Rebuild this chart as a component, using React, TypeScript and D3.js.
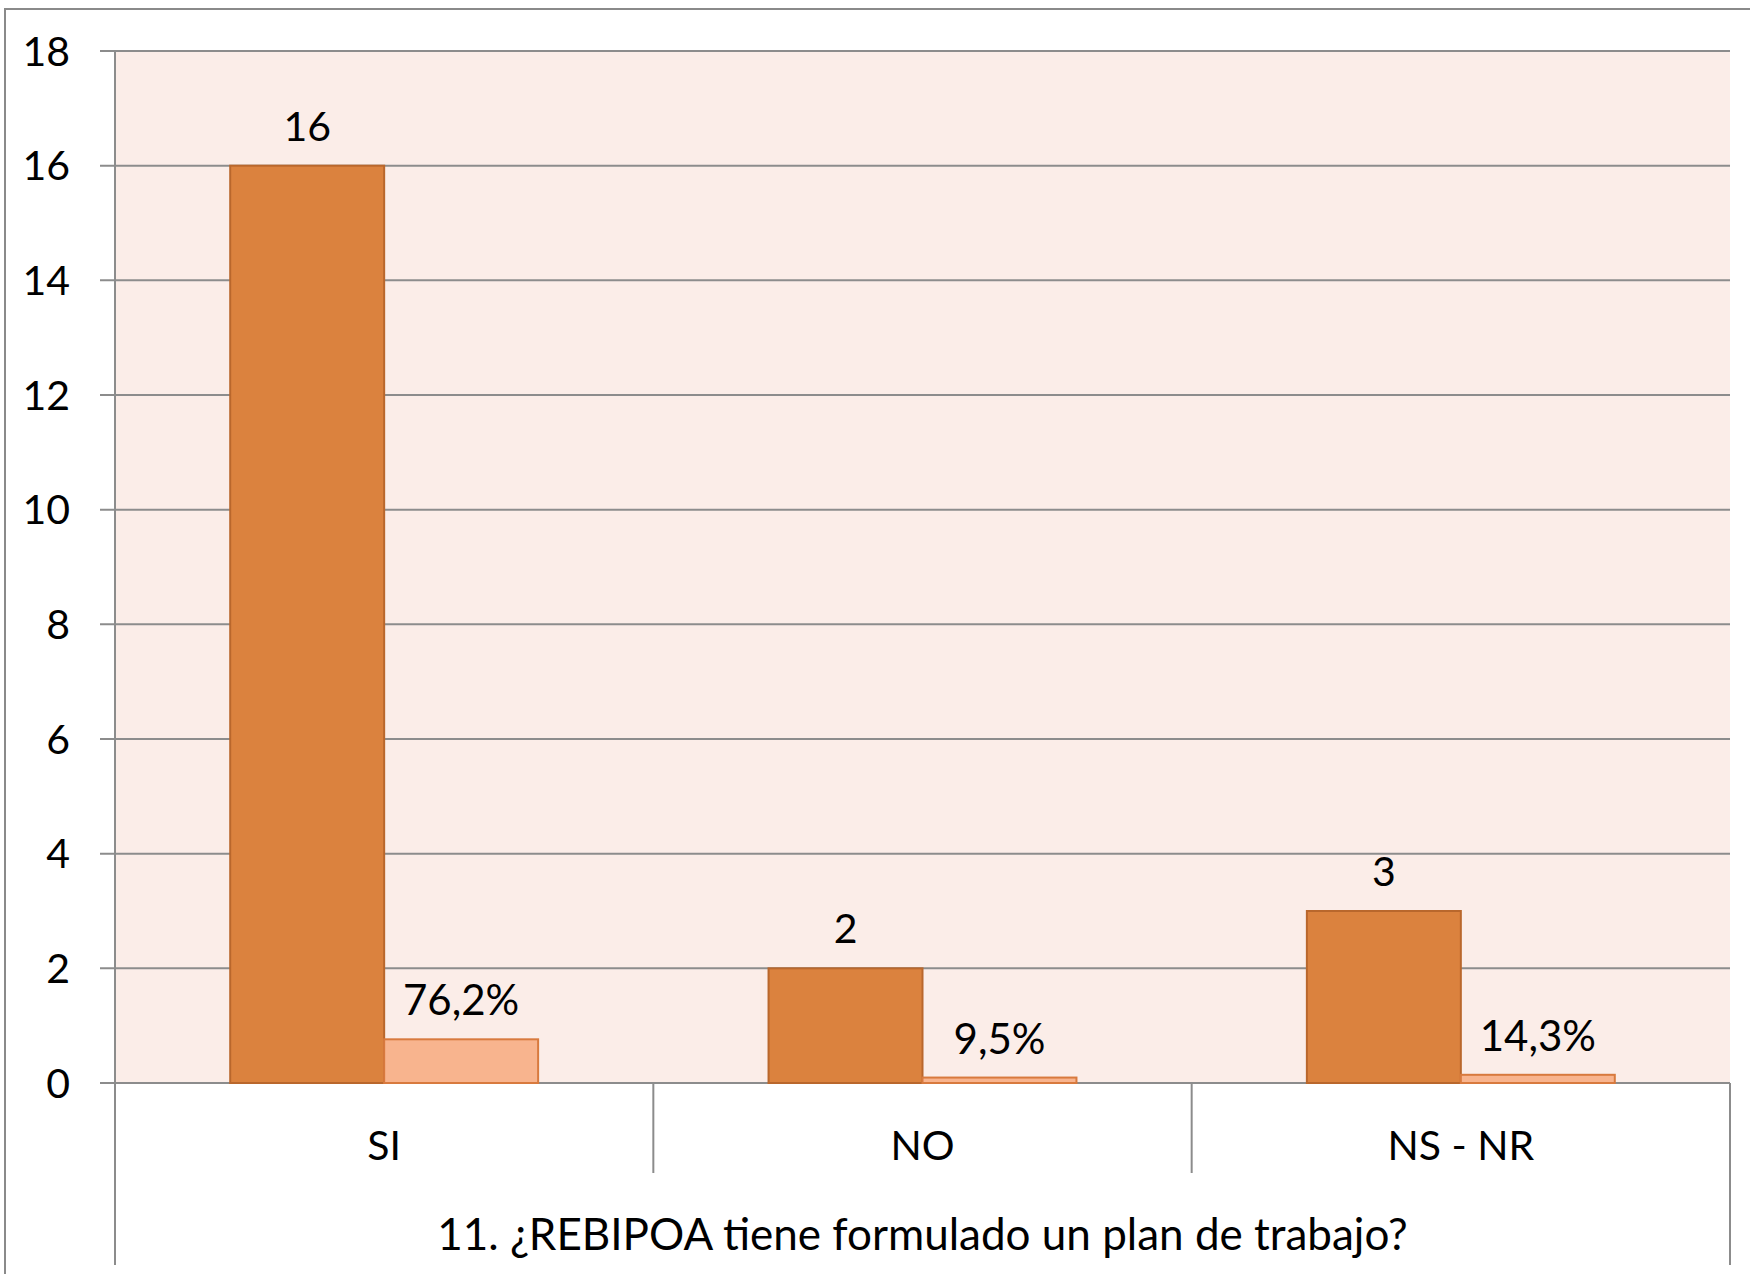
import React from "react";
import * as d3 from "d3";

const categories = ["SI", "NO", "NS - NR"];
const counts = [16, 2, 3];
const shares = [0.762, 0.095, 0.143];
const shareLabels = ["76,2%", "9,5%", "14,3%"];
const yTicks = [0, 2, 4, 6, 8, 10, 12, 14, 16, 18];
const axisTitle = "11. ¿REBIPOA tiene formulado un plan de trabajo?";

const W = 1750;
const H = 1274;
const left = 115;
const right = 1730;
const top = 51;
const bottom = 1083;
const FONT = "Lato, 'Open Sans', sans-serif";

export default function App() {
  const x = d3.scaleBand<string>().domain(categories).range([left, right]).padding(0);
  const y = d3.scaleLinear().domain([0, 18]).range([bottom, top]);
  const bw = x.bandwidth();
  const barW = bw * 0.286;

  return (
    <svg
      width={W}
      height={H}
      style={{ position: "absolute", left: 0, top: 0, background: "#fff" }}
      fontFamily={FONT}
    >
      <rect x={5} y={9} width={W} height={H} fill="#fff" stroke="#8a8a8a" strokeWidth={2} />
      <rect x={left} y={top} width={right - left} height={bottom - top} fill="#FBEDE8" />
      {yTicks.map((t) => (
        <g key={t}>
          <line x1={left - 15} x2={right} y1={y(t)} y2={y(t)} stroke="#8c8c8c" strokeWidth={2} />
          <text x={70} y={y(t)} dy="0.36em" textAnchor="end" fontSize={41} fill="#000">
            {t}
          </text>
        </g>
      ))}
      <line x1={left} x2={left} y1={top} y2={1265} stroke="#8c8c8c" strokeWidth={2} />
      <line x1={right} x2={right} y1={bottom} y2={1265} stroke="#8c8c8c" strokeWidth={2} />
      {categories.slice(1).map((c) => (
        <line key={c} x1={x(c)!} x2={x(c)!} y1={bottom} y2={1173} stroke="#8c8c8c" strokeWidth={2} />
      ))}
      {categories.map((c, i) => {
        const cx = x(c)! + bw / 2;
        return (
          <g key={c}>
            <rect
              x={cx - barW}
              y={y(counts[i])}
              width={barW}
              height={y(0) - y(counts[i])}
              fill="#DB823E"
              stroke="#B9672C"
              strokeWidth={2}
            />
            <rect
              x={cx}
              y={y(shares[i])}
              width={barW}
              height={y(0) - y(shares[i])}
              fill="#F8B48E"
              stroke="#D87A3E"
              strokeWidth={2}
            />
            <text x={cx - barW / 2} y={y(counts[i]) - 25} textAnchor="middle" fontSize={41} fill="#000">
              {counts[i]}
            </text>
            <text x={cx + barW / 2} y={y(shares[i]) - 24} textAnchor="middle" fontSize={42} fill="#000">
              {shareLabels[i]}
            </text>
            <text x={cx} y={1160} textAnchor="middle" fontSize={41} fill="#000">
              {c}
            </text>
          </g>
        );
      })}
      <text x={(left + right) / 2} y={1250} textAnchor="middle" fontSize={44} fill="#000">
        {axisTitle}
      </text>
    </svg>
  );
}
